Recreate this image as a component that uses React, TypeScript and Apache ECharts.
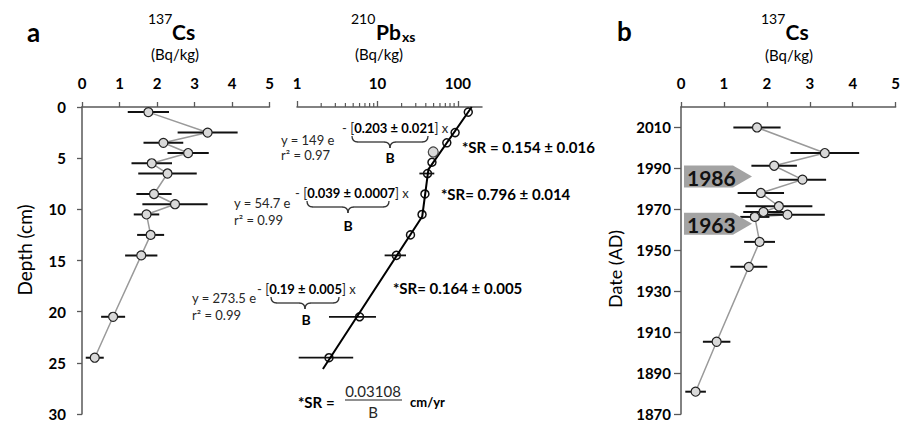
import React, { useEffect, useRef } from "react";
import * as echarts from "echarts";

// ---------- data ----------
const csDepths = [0.5, 2.5, 3.5, 4.5, 5.5, 6.5, 8.5, 9.5, 10.5, 12.5, 14.5, 20.5, 24.5];
const csValues = [1.77, 3.35, 2.17, 2.83, 1.86, 2.28, 1.92, 2.48, 1.72, 1.83, 1.58, 0.83, 0.34];
const csErrors = [0.55, 0.8, 0.53, 0.55, 0.54, 0.78, 0.47, 0.87, 0.34, 0.36, 0.43, 0.32, 0.24];
const csDates = [2010.0, 1997.5, 1991.3, 1984.5, 1978.0, 1971.5, 1968.7, 1967.4, 1966.3, 1954.1, 1941.9, 1905.3, 1880.9];

const pbDepths = [0.5, 2.5, 3.5, 5.4, 6.5, 8.5, 10.5, 12.5, 14.5, 20.5, 24.5];
const pbValues = [135, 92.6, 73, 47.7, 42, 39, 35.9, 25.8, 17.2, 6.0, 2.5];
const pbErrLow = [null, null, null, null, 33.3, null, null, null, 12.3, 2.5, 1.05];
const pbErrHigh = [null, null, null, null, 51, null, null, null, 22.7, 9.6, 5.0];
const pbExcludedValue = [49.5];
const pbExcludedDepth = [4.4];

const pbFitValues = [149, 43.1, 36.1, 2.1];
const pbFitDepths = [0, 6.1, 10.7, 25.6];
const pbMinorTicks = [2, 3, 4, 5, 6, 7, 8, 9, 20, 30, 40, 50, 60, 70, 80, 90];

const depthTicks = [0, 5, 10, 15, 20, 25, 30];
const dateTicks = [1870, 1890, 1910, 1930, 1950, 1970, 1990, 2010];
const markerYears = [1986, 1963];
const markerLabels = ["1986", "1963"];

// ---------- helpers ----------
const F = "Lato";
const AX = "#595959";
const EQ = "#262626";

function txt(text: string, x: number, y: number, font: string, align = "left", fill = "#000", extra: any = {}) {
  return {
    type: "text",
    x,
    y,
    silent: true,
    style: { text, font, fill, textAlign: align, textVerticalAlign: "middle", ...extra },
  };
}

function richEq(parts: string, x: number, y: number) {
  return {
    type: "text",
    x,
    y,
    silent: true,
    style: {
      text: parts,
      textAlign: "left",
      textVerticalAlign: "middle",
      fill: EQ,
      font: `13px ${F}`,
      rich: {
        r: { fontFamily: F, fontSize: 13, fill: EQ, color: EQ },
        b: { fontFamily: F, fontSize: 13, fontWeight: "bold", fill: "#000", color: "#000" },
      },
    },
  };
}

function brace(x1: number, x2: number, y: number, h: number) {
  const xm = (x1 + x2) / 2;
  const r = 6;
  const st = { stroke: "#333", lineWidth: 1.3, fill: null };
  const ym = y + h / 2;
  return [
    { type: "bezierCurve", silent: true, shape: { x1, y1: y, cpx1: x1, cpy1: ym, x2: x1 + r, y2: ym }, style: st },
    { type: "line", silent: true, shape: { x1: x1 + r, y1: ym, x2: xm - r, y2: ym }, style: st },
    { type: "bezierCurve", silent: true, shape: { x1: xm - r, y1: ym, cpx1: xm, cpy1: ym, x2: xm, y2: y + h }, style: st },
    { type: "bezierCurve", silent: true, shape: { x1: xm, y1: y + h, cpx1: xm, cpy1: ym, x2: xm + r, y2: ym }, style: st },
    { type: "line", silent: true, shape: { x1: xm + r, y1: ym, x2: x2 - r, y2: ym }, style: st },
    { type: "bezierCurve", silent: true, shape: { x1: x2 - r, y1: ym, cpx1: x2, cpy1: ym, x2, y2: y }, style: st },
  ];
}

const errBarRender = (params: any, api: any) => {
  const v = api.value(0);
  const d = api.value(1);
  const e = api.value(2);
  const p1 = api.coord([v - e, d]);
  const p2 = api.coord([v + e, d]);
  return {
    type: "line",
    shape: { x1: p1[0], y1: p1[1], x2: p2[0], y2: p2[1] },
    style: { stroke: "#111", lineWidth: 2 },
  };
};

const axisLabelStyle = { fontFamily: F, fontWeight: "bold", fontSize: 15, color: "#000" };

export default function App() {
  const ref = useRef<HTMLDivElement>(null);

  useEffect(() => {
    if (!ref.current) return;
    const chart = echarts.init(ref.current, null, { renderer: "svg" });

    const csPairs = csValues.map((v, i) => [v, csDepths[i]]);
    const csErrData = csValues.map((v, i) => [v, csDepths[i], csErrors[i]]);
    const datePairs = csValues.map((v, i) => [v, csDates[i]]);
    const dateErrData = csValues.map((v, i) => [v, csDates[i], csErrors[i]]);
    const pbPairs = pbValues.map((v, i) => [v, pbDepths[i]]);
    const pbErrData = pbValues
      .map((v, i) => [pbErrLow[i], pbErrHigh[i], pbDepths[i]])
      .filter((d) => d[0] != null);
    const pbFit = pbFitValues.map((v, i) => [v, pbFitDepths[i]]);
    const pbExcl = pbExcludedValue.map((v, i) => [v, pbExcludedDepth[i]]);

    const option: any = {
      animation: false,
      textStyle: { fontFamily: F },
      grid: [
        { left: 82, top: 107, width: 187.5, height: 307 },
        { left: 297, top: 107, width: 185, height: 307 },
        { left: 681, top: 107, width: 216.7, height: 307 },
      ],
      xAxis: [
        {
          gridIndex: 0,
          type: "value",
          position: "top",
          min: 0,
          max: 5,
          interval: 1,
          axisLine: { show: true, lineStyle: { color: AX, width: 1.5 } },
          axisTick: { show: true, inside: false, length: 5, lineStyle: { color: AX, width: 1.3 } },
          axisLabel: { ...axisLabelStyle, margin: 17 },
          splitLine: { show: false },
        },
        {
          gridIndex: 1,
          type: "log",
          logBase: 10,
          position: "top",
          min: 1,
          max: 200,
          axisLine: { show: true, lineStyle: { color: AX, width: 1.5 } },
          axisTick: { show: true, inside: false, length: 6, lineStyle: { color: AX, width: 1.3 } },
          axisLabel: { ...axisLabelStyle, margin: 17, showMaxLabel: false },
          splitLine: { show: false },
        },
        {
          gridIndex: 2,
          type: "value",
          position: "top",
          min: 0,
          max: 5,
          interval: 1,
          axisLine: { show: true, lineStyle: { color: AX, width: 1.5 } },
          axisTick: { show: true, inside: false, length: 5, lineStyle: { color: AX, width: 1.3 } },
          axisLabel: { ...axisLabelStyle, margin: 17 },
          splitLine: { show: false },
        },
      ],
      yAxis: [
        {
          gridIndex: 0,
          type: "value",
          inverse: true,
          min: 0,
          max: 30,
          interval: 5,
          axisLine: { show: true, lineStyle: { color: AX, width: 1.5 } },
          axisTick: { show: true, inside: false, length: 5, lineStyle: { color: AX, width: 1.3 }, customValues: depthTicks },
          axisLabel: { ...axisLabelStyle, margin: 16, customValues: depthTicks },
          splitLine: { show: false },
        },
        {
          gridIndex: 1,
          type: "value",
          inverse: true,
          min: 0,
          max: 30,
          show: false,
        },
        {
          gridIndex: 2,
          type: "value",
          min: 1870,
          max: 2020,
          axisLine: { show: true, lineStyle: { color: AX, width: 1.5 } },
          axisTick: { show: true, inside: false, length: 7, lineStyle: { color: AX, width: 1.3 }, customValues: dateTicks },
          axisLabel: {
            ...axisLabelStyle,
            margin: 10,
            customValues: dateTicks,
            formatter: (v: number) => String(Math.round(v)),
          },
          splitLine: { show: false },
        },
      ],
      series: [
        // ---- panel a, Cs ----
        {
          type: "line",
          xAxisIndex: 0,
          yAxisIndex: 0,
          data: csPairs,
          symbol: "none",
          lineStyle: { color: "#9a9a9a", width: 1.5 },
          z: 2,
        },
        {
          type: "custom",
          xAxisIndex: 0,
          yAxisIndex: 0,
          data: csErrData,
          encode: { x: 0, y: 1 },
          renderItem: errBarRender,
          z: 3,
        },
        {
          type: "scatter",
          xAxisIndex: 0,
          yAxisIndex: 0,
          data: csPairs,
          symbol: "circle",
          symbolSize: 9,
          itemStyle: { color: "#d9d9d9", borderColor: "#222", borderWidth: 1.2, opacity: 1 },
          z: 4,
        },
        // ---- panel a, Pb ----
        {
          type: "custom",
          xAxisIndex: 1,
          yAxisIndex: 1,
          data: pbErrData,
          encode: { x: [0, 1], y: 2 },
          renderItem: (params: any, api: any) => {
            const p1 = api.coord([api.value(0), api.value(2)]);
            const p2 = api.coord([api.value(1), api.value(2)]);
            return {
              type: "line",
              shape: { x1: p1[0], y1: p1[1], x2: p2[0], y2: p2[1] },
              style: { stroke: "#111", lineWidth: 1.8 },
            };
          },
          z: 2,
        },
        {
          type: "scatter",
          xAxisIndex: 1,
          yAxisIndex: 1,
          data: pbPairs,
          symbol: "circle",
          symbolSize: 8,
          itemStyle: { color: "rgba(255,255,255,0)", borderColor: "#111", borderWidth: 1.5, opacity: 1 },
          z: 3,
        },
        {
          type: "line",
          xAxisIndex: 1,
          yAxisIndex: 1,
          data: pbFit,
          symbol: "none",
          lineStyle: { color: "#000", width: 2 },
          z: 4,
        },
        {
          type: "scatter",
          xAxisIndex: 1,
          yAxisIndex: 1,
          data: pbExcl,
          symbol: "circle",
          symbolSize: 10,
          itemStyle: { color: "#d9d9d9", borderColor: "#444", borderWidth: 1.2, opacity: 1 },
          z: 5,
        },
        {
          type: "custom",
          xAxisIndex: 1,
          yAxisIndex: 1,
          clip: false,
          data: pbMinorTicks.map((v) => [v, 0]),
          encode: { x: 0, y: 1 },
          renderItem: (params: any, api: any) => {
            const p = api.coord([api.value(0), api.value(1)]);
            return {
              type: "line",
              shape: { x1: p[0], y1: p[1], x2: p[0], y2: p[1] - 4 },
              style: { stroke: AX, lineWidth: 1.2 },
            };
          },
          z: 2,
        },
        // ---- panel b ----
        {
          type: "line",
          xAxisIndex: 2,
          yAxisIndex: 2,
          data: datePairs,
          symbol: "none",
          lineStyle: { color: "#9a9a9a", width: 1.5 },
          z: 2,
        },
        {
          type: "custom",
          xAxisIndex: 2,
          yAxisIndex: 2,
          data: dateErrData,
          encode: { x: 0, y: 1 },
          renderItem: errBarRender,
          z: 3,
        },
        {
          type: "scatter",
          xAxisIndex: 2,
          yAxisIndex: 2,
          data: datePairs,
          symbol: "circle",
          symbolSize: 9,
          itemStyle: { color: "#d9d9d9", borderColor: "#222", borderWidth: 1.2, opacity: 1 },
          z: 4,
        },
        {
          type: "custom",
          xAxisIndex: 2,
          yAxisIndex: 2,
          clip: false,
          data: markerYears.map((y) => [0, y]),
          encode: { x: 0, y: 1 },
          renderItem: (params: any, api: any) => {
            const p = api.coord([api.value(0), api.value(1)]);
            const x0 = p[0] + 3;
            const y0 = p[1];
            return {
              type: "group",
              children: [
                {
                  type: "polygon",
                  shape: {
                    points: [
                      [x0, y0 - 11],
                      [x0 + 49, y0 - 11],
                      [x0 + 68, y0],
                      [x0 + 49, y0 + 11],
                      [x0, y0 + 11],
                    ],
                  },
                  style: { fill: "#a3a3a3", stroke: null },
                },
                {
                  type: "text",
                  style: {
                    text: markerLabels[params.dataIndex],
                    x: x0 + 3,
                    y: y0 + 1,
                    font: `bold 21px ${F}`,
                    fill: "#111",
                    textAlign: "left",
                    textVerticalAlign: "middle",
                  },
                },
              ],
            };
          },
          z: 6,
        },
      ],
      graphic: [
        // panel letters
        txt("a", 27, 32, `bold 26px ${F}`),
        txt("b", 617, 31, `bold 26px ${F}`),
        // titles
        txt("137", 148, 18, `14px ${F}`),
        txt("Cs", 172, 31, `bold 21px ${F}`),
        txt("(Bq/kg)", 175, 54, `15px ${F}`, "center"),
        txt("210", 351, 18, `14px ${F}`),
        txt("Pb", 376, 31.5, `bold 21px ${F}`),
        txt("xs", 402, 36, `bold 14px ${F}`),
        txt("(Bq/kg)", 379, 54, `15px ${F}`, "center"),
        txt("137", 761, 18, `14px ${F}`),
        txt("Cs", 785.5, 31, `bold 21px ${F}`),
        txt("(Bq/kg)", 789, 55, `15px ${F}`, "center"),
        // axis names
        { ...txt("Depth (cm)", 24, 250, `19px ${F}`, "center"), rotation: Math.PI / 2 },
        { ...txt("Date (AD)", 615, 269, `18px ${F}`, "center"), rotation: Math.PI / 2 },
        // equation 1
        txt("y = 149 e", 281, 140, `13px ${F}`, "left", EQ),
        txt("r² = 0.97", 281, 155, `13px ${F}`, "left", EQ),
        richEq("{r|- [}{b|0.203 ± 0.021}{r|] x}", 342, 128),
        ...brace(352, 428, 136, 12),
        txt("B", 390, 157, `bold 14px ${F}`, "center"),
        // equation 2
        txt("y = 54.7 e", 234, 203, `13px ${F}`, "left", EQ),
        txt("r² = 0.99", 234, 220, `13px ${F}`, "left", EQ),
        richEq("{r|- [}{b|0.039 ± 0.0007}{r|] x}", 295, 193),
        ...brace(307, 389, 201, 12),
        txt("B", 348, 225, `bold 14px ${F}`, "center"),
        // equation 3
        txt("y = 273.5 e", 192, 298, `13px ${F}`, "left", EQ),
        txt("r² = 0.99", 192, 315, `13px ${F}`, "left", EQ),
        richEq("{r|- [}{b|0.19 ± 0.005}{r|] x}", 257, 289),
        ...brace(271, 339, 297, 12),
        txt("B", 306, 319, `bold 14px ${F}`, "center"),
        // SR values
        txt("*SR = 0.154 ± 0.016", 462, 147, `bold 15px ${F}`),
        txt("*SR= 0.796 ± 0.014", 441, 194, `bold 15px ${F}`),
        txt("*SR= 0.164 ± 0.005", 393, 288, `bold 15px ${F}`),
        // SR formula
        txt("*SR =", 298, 402, `bold 15px ${F}`),
        txt("0.03108", 373, 390.5, `15px ${F}`, "center", EQ),
        {
          type: "line",
          silent: true,
          shape: { x1: 345, y1: 400, x2: 402, y2: 400 },
          style: { stroke: "#222", lineWidth: 1.2 },
        },
        txt("B", 373, 411.5, `15px ${F}`, "center", EQ),
        txt("cm/yr", 410, 402, `bold 13px ${F}`),
      ],
    };

    chart.setOption(option);
    return () => chart.dispose();
  }, []);

  return (
    <div
      ref={ref}
      style={{ position: "absolute", left: 0, top: 0, width: 903, height: 424, background: "#fff" }}
    />
  );
}
